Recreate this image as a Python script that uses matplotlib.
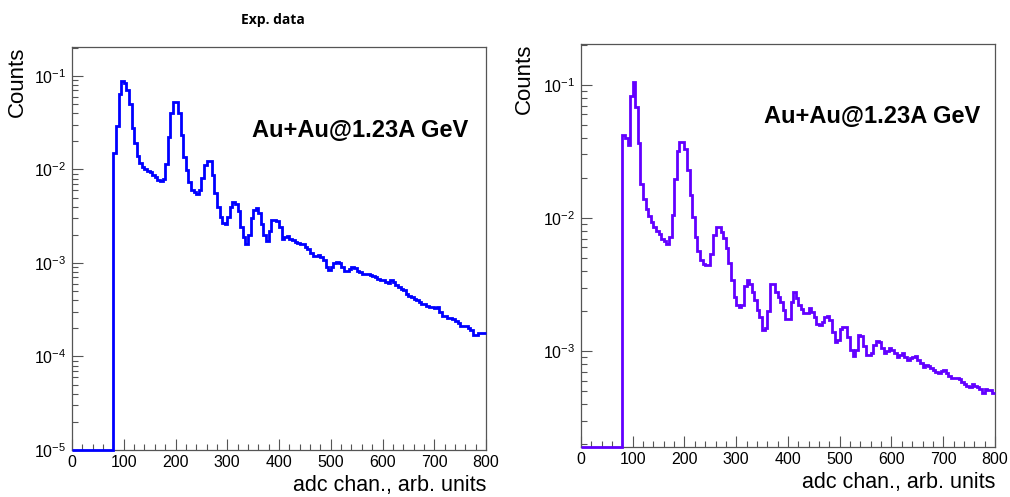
import numpy as np
import matplotlib
matplotlib.use("Agg")
import matplotlib.pyplot as plt
from matplotlib.ticker import MultipleLocator, LogLocator, NullFormatter

# --- data: counts per 5-channel bin, from x = 80 on ---
BIN_WIDTH = 5
N_EMPTY = 16  # bins 0..75 are empty

exp_counts = [
    0.0149, 0.029, 0.064, 0.089, 0.085, 0.070, 0.050, 0.028, 0.019, 0.014,
    0.0116, 0.0105, 0.0100, 0.0097, 0.0094, 0.0087, 0.0083, 0.0077, 0.0075, 0.0080,
    0.0114, 0.022, 0.040, 0.053, 0.053, 0.040, 0.0234, 0.0137, 0.0099, 0.0074,
    0.0060, 0.0057, 0.0055, 0.0060, 0.0081, 0.0112, 0.0124, 0.0122, 0.0087, 0.0056,
    0.0040, 0.0031, 0.0027, 0.0026, 0.0031, 0.0040, 0.0045, 0.0043, 0.0036, 0.0024,
    0.0019, 0.0016, 0.0020, 0.0030, 0.0037, 0.0039, 0.0034, 0.0026, 0.0020, 0.0017,
    0.0022, 0.0029, 0.0029, 0.0028, 0.0024, 0.0018, 0.00188, 0.00194, 0.0018, 0.00176,
    0.00169, 0.00162, 0.00161, 0.00158, 0.0015, 0.0014, 0.00128, 0.0012, 0.00119, 0.00121,
    0.00117, 0.00108, 0.0009, 0.00085, 0.00091, 0.0010, 0.00103, 0.00101, 0.0009, 0.00082,
    0.00083, 0.00087, 0.00091, 0.00089, 0.00083, 0.0008, 0.00077, 0.00077, 0.00076, 0.00075,
    0.00072, 0.0007, 0.00067, 0.00065, 0.00065, 0.00062, 0.00061, 0.00066, 0.00062, 0.00058,
    0.00055, 0.00053, 0.00051, 0.00047, 0.00044, 0.00043, 0.00041, 0.0004, 0.00038, 0.00036,
    0.00036, 0.00035, 0.00034, 0.00034, 0.00033, 0.00034, 0.0003, 0.00027, 0.00027, 0.00026,
    0.00026, 0.00025, 0.00024, 0.00023, 0.00021, 0.00021, 0.00021, 0.0002, 0.00019, 0.00017,
    0.00017, 0.00018, 0.00018, 0.00018,
]

sim_counts = [
    0.042, 0.040, 0.0354, 0.083, 0.106, 0.0687, 0.0364, 0.018, 0.0139, 0.0117,
    0.0103, 0.0094, 0.0086, 0.0080, 0.0076, 0.0070, 0.0067, 0.0064, 0.0072, 0.0106,
    0.0195, 0.0316, 0.0375, 0.0375, 0.033, 0.023, 0.015, 0.0102, 0.0072, 0.0056,
    0.00483, 0.0045, 0.00443, 0.00443, 0.0054, 0.00745, 0.0086, 0.0085, 0.0079, 0.00704,
    0.00592, 0.00461, 0.00342, 0.00256, 0.00222, 0.00216, 0.0022, 0.0031, 0.0034, 0.0032,
    0.0028, 0.0024, 0.00203, 0.00181, 0.00144, 0.0015, 0.0020, 0.0032, 0.0032, 0.00279,
    0.00256, 0.00235, 0.00203, 0.00173, 0.00173, 0.00235, 0.00279, 0.00249, 0.00222, 0.00206,
    0.00192, 0.00194, 0.0021, 0.00197, 0.00181, 0.00161, 0.00157, 0.00166, 0.00181, 0.00183,
    0.00171, 0.0014, 0.00117, 0.0012, 0.00146, 0.00152, 0.00152, 0.00128, 0.00102, 0.00092,
    0.00102, 0.00132, 0.0013, 0.0011, 0.00094, 0.00094, 0.00097, 0.00111, 0.00119, 0.00117,
    0.00105, 0.00096, 0.0010, 0.00105, 0.00102, 0.00096, 0.0009, 0.00094, 0.00097, 0.0009,
    0.00086, 0.00088, 0.0009, 0.00092, 0.00086, 0.00081, 0.00076, 0.00079, 0.00077, 0.00074,
    0.00072, 0.0007, 0.00068, 0.00071, 0.00072, 0.00068, 0.00065, 0.00063, 0.00063, 0.00063,
    0.00062, 0.00059, 0.00057, 0.00055, 0.00054, 0.00057, 0.00055, 0.00054, 0.00052, 0.00048,
    0.00052, 0.00051, 0.00051, 0.00048,
]

TITLE = "Exp. data"
LABEL = "Au+Au@1.23A GeV"
XLABEL = "adc chan., arb. units"
YLABEL = "Counts"

plt.rcParams['font.family'] = ['Liberation Sans', 'DejaVu Sans']
plt.rcParams['mathtext.fontset'] = 'custom'
plt.rcParams['mathtext.rm'] = 'Liberation Sans'

FRAME = '#555555'


def draw_panel(ax, counts, color, ymin, ymax, label_xy, ylabel_x):
    values = np.array([0.0] * N_EMPTY + counts)
    edges = np.arange(len(values) + 1) * BIN_WIDTH
    ax.stairs(np.clip(values, ymin, None), edges, baseline=None,
              color=color, lw=2.0, clip_on=False, zorder=3)

    ax.set_yscale('log')
    ax.set_xlim(0, 800)
    ax.set_ylim(ymin, ymax)

    ax.xaxis.set_major_locator(MultipleLocator(100))
    ax.xaxis.set_minor_locator(MultipleLocator(20))
    ax.yaxis.set_major_locator(LogLocator(base=10))
    ax.yaxis.set_minor_locator(LogLocator(base=10, subs=np.arange(2, 10)))
    ax.yaxis.set_minor_formatter(NullFormatter())

    ax.tick_params(which='both', direction='in', color=FRAME, width=0.8,
                   top=False, right=False, labelsize=11.5)
    ax.tick_params(which='major', length=8)
    ax.tick_params(which='minor', length=4.5)
    ax.tick_params(axis='x', pad=3.5)
    ax.tick_params(axis='y', pad=4)
    for sp in ax.spines.values():
        sp.set_color(FRAME)
        sp.set_linewidth(0.9)

    ax.set_xlabel(XLABEL, fontsize=15.5, loc='right')
    ax.xaxis.set_label_coords(1.0, -0.062)
    ax.set_ylabel(YLABEL, fontsize=16, loc='top')
    ax.yaxis.set_label_coords(ylabel_x, 1.0)

    ax.text(label_xy[0], label_xy[1], LABEL, transform=ax.transAxes,
            fontsize=17, fontweight='bold', ha='left', va='center')


fig = plt.figure(figsize=(10.1, 4.97), dpi=100)
ax1 = fig.add_axes([0.0713, 0.0946, 0.4099, 0.8108])
ax2 = fig.add_axes([0.5752, 0.1006, 0.4099, 0.8109])

draw_panel(ax1, exp_counts, '#0000ff', 1e-5, 0.204, (0.435, 0.792), -0.106)
draw_panel(ax2, sim_counts, '#6200ff', 1.9e-4, 0.203, (0.442, 0.819), -0.111)

fig.text(273 / 1010, 1 - 20 / 497, TITLE, fontsize=10, fontweight='bold',
         family=['Open Sans', 'DejaVu Sans'], ha='center', va='center')

fig.savefig('out.png', dpi=100)
